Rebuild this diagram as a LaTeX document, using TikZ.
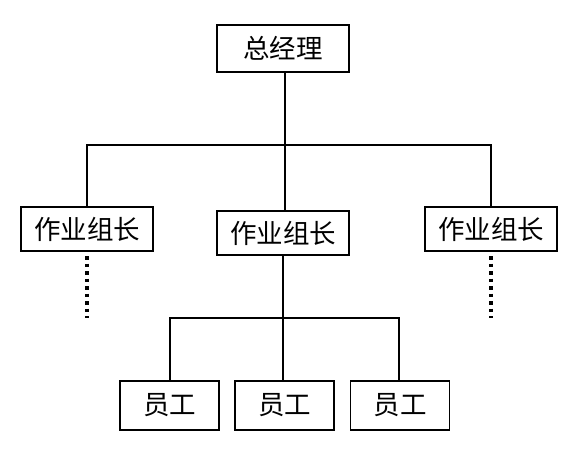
\documentclass[tikz,border=0pt]{standalone}
\usepackage{fontspec}
\newfontfamily\cjk{Noto Sans CJK SC}
\begin{document}
\begin{tikzpicture}[x=1pt,y=-1pt,
  box/.style={draw,line width=1.2pt,inner sep=0pt,font=\cjk\fontsize{26.5}{30}\selectfont},
  conn/.style={line width=2pt},
  dots/.style={line width=3.5pt,dash pattern=on 3.5pt off 4pt}]
\useasboundingbox[fill=white] (0,0) rectangle (578,459);
\node[box,minimum width=132pt,minimum height=47pt] (gm) at (283,48.5) {总经理};
\node[box,minimum width=132pt,minimum height=44pt] (l1) at (87,229) {作业组长};
\node[box,minimum width=132pt,minimum height=44pt] (l2) at (283,233) {作业组长};
\node[box,minimum width=132pt,minimum height=44pt] (l3) at (491,229) {作业组长};
\node[box,minimum width=99pt,minimum height=49pt] (e1) at (169.5,405.5) {员工};
\node[box,minimum width=99pt,minimum height=49pt] (e2) at (284.5,405.5) {员工};
\node[box,minimum width=99pt,minimum height=49pt] (e3) at (400,405.5) {员工};
\coordinate (t) at (285,145);
\coordinate (b) at (283,318);
\draw[conn] (gm.south -| t) -- (t);
\draw[conn] (l1.north) |- (t) -| (l3.north);
\draw[conn] (t) -- (t |- l2.north);
\draw[conn] (l2.south -| b) -- (e2.north -| b);
\draw[conn] (e1.north -| 170,0) |- (b) -| (e3.north -| 399,0);
\draw[dots] (87,256) -- (87,318);
\draw[dots] (491,256) -- (491,318);
\end{tikzpicture}
\end{document}
